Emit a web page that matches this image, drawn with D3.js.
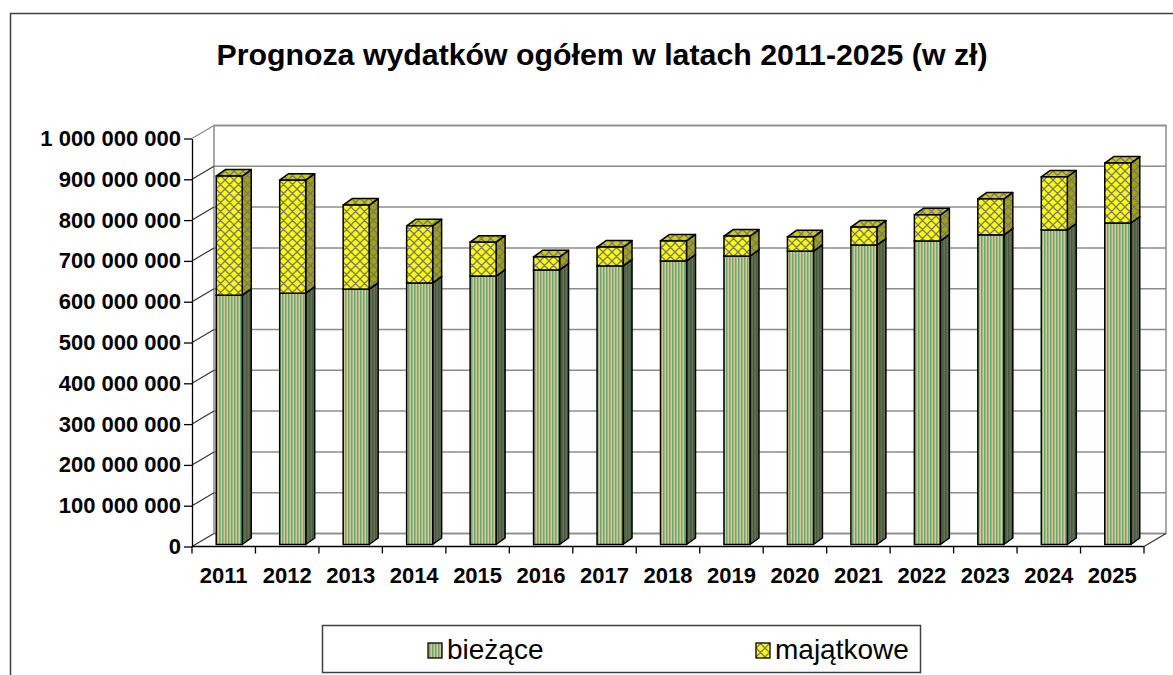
<!DOCTYPE html>
<html>
<head>
<meta charset="utf-8">
<script src="https://cdn.jsdelivr.net/npm/d3@7"></script>
<style>
  body { margin: 0; background: #fff; }
  svg { display: block; font-family: 'Liberation Sans', Arial, sans-serif; }
</style>
</head>
<body>
<svg></svg>
<script>
// data (zł)
const years = ['2011', '2012', '2013', '2014', '2015', '2016', '2017', '2018',
               '2019', '2020', '2021', '2022', '2023', '2024', '2025'];
const biezace = [611e6, 616e6, 626e6, 641e6, 658e6, 673e6, 683e6, 695e6,
                 707e6, 719e6, 734e6, 744e6, 759e6, 771e6, 788e6];
const majatkowe = [292e6, 277e6, 206e6, 140e6, 83e6, 32e6, 46e6, 49e6,
                   49e6, 35e6, 44e6, 64e6, 88e6, 130e6, 147e6];
const yTicks = [0, 100e6, 200e6, 300e6, 400e6, 500e6, 600e6, 700e6, 800e6, 900e6, 1000e6];
const seriesNames = ['bieżące', 'majątkowe'];

let width = 1173
let height = 675

// 3d box of the plot
let plotLeft = 192, plotRight = 1144, plotBottom = 546.5, plotTop = 138.5
let depthX = 22, depthY = 13
// bar placement inside the depth
let barOffX = 5.5, barOffY = 2
let barDX = 9, barDY = 6.5

let x, y
let svg = d3.select('svg')

const fmt = d3.formatLocale({ decimal: ',', thousands: ' ', grouping: [3], currency: ['', ' zł'] }).format(',')

let drawCanvas = () => {
  svg.attr('width', width).attr('height', height)

  let defs = svg.append('defs')

  // vertical stripes (front)
  let st = defs.append('pattern').attr('id', 'stripes')
    .attr('patternUnits', 'userSpaceOnUse').attr('width', 3).attr('height', 10)
  st.append('rect').attr('width', 3).attr('height', 10).attr('fill', '#dcc890')
  st.append('rect').attr('width', 1.5).attr('height', 10).attr('fill', '#66a877')

  let sd = defs.append('pattern').attr('id', 'stripesDark')
    .attr('patternUnits', 'userSpaceOnUse').attr('width', 3).attr('height', 10)
  sd.append('rect').attr('width', 3).attr('height', 10).attr('fill', '#706c4e')
  sd.append('rect').attr('width', 1.5).attr('height', 10).attr('fill', '#3d5f46')

  let hatch = (id, bg) => {
    let p = defs.append('pattern').attr('id', id)
      .attr('patternUnits', 'userSpaceOnUse').attr('width', 9).attr('height', 9)
    p.append('rect').attr('width', 9).attr('height', 9).attr('fill', bg)
    p.append('path').attr('d', 'M0,0L9,9M9,0L0,9M-1,8L1,10M8,-1L10,1M-1,1L1,-1M8,10L10,8')
      .attr('stroke', '#777').attr('stroke-width', 1.3)
  }
  hatch('hatch', '#ffff00')
  hatch('hatchSide', '#a3a300')
  hatch('hatchTop', '#cccc00')

  // chart frame
  svg.append('rect')
    .attr('x', 10.5).attr('y', 13.5)
    .attr('width', 1200).attr('height', 700)
    .attr('fill', '#fff').attr('stroke', '#404040').attr('stroke-width', 1.5)

  svg.append('text')
    .attr('x', 602).attr('y', 65)
    .attr('text-anchor', 'middle')
    .style('font-size', '30.3px').style('font-weight', 'bold')
    .text('Prognoza wydatków ogółem w latach 2011-2025 (w zł)')
}

let generateScales = () => {
  x = d3.scaleBand().domain(years).range([plotLeft, plotRight])
  y = d3.scaleLinear().domain([0, 1e9]).range([plotBottom, plotTop])
}

let drawWalls = () => {
  let g = svg.append('g')

  // back wall
  g.append('rect')
    .attr('x', plotLeft + depthX).attr('y', plotTop - depthY)
    .attr('width', plotRight - plotLeft).attr('height', plotBottom - plotTop)
    .attr('fill', '#fff').attr('stroke', '#8c8c8c').attr('stroke-width', 1.5)

  // gridlines on back wall
  g.selectAll('.grid')
    .data(yTicks.slice(1))
    .enter()
    .append('line')
    .attr('x1', plotLeft + depthX).attr('x2', plotRight + depthX)
    .attr('y1', d => y(d) - depthY).attr('y2', d => y(d) - depthY)
    .attr('stroke', '#8c8c8c').attr('stroke-width', 1.5)

  // left wall diagonals
  g.selectAll('.diag')
    .data(yTicks)
    .enter()
    .append('line')
    .attr('x1', plotLeft).attr('x2', plotLeft + depthX)
    .attr('y1', d => y(d)).attr('y2', d => y(d) - depthY)
    .attr('stroke', d => d === 1e9 ? '#8c8c8c' : '#333').attr('stroke-width', 1.2)

  // floor
  g.append('line')
    .attr('x1', plotLeft + depthX).attr('x2', plotRight + depthX)
    .attr('y1', plotBottom - depthY).attr('y2', plotBottom - depthY)
    .attr('stroke', '#8c8c8c').attr('stroke-width', 1.5)
  g.append('line')
    .attr('x1', plotRight).attr('x2', plotRight + depthX)
    .attr('y1', plotBottom).attr('y2', plotBottom - depthY)
    .attr('stroke', '#333').attr('stroke-width', 1.2)
}

let drawBars = () => {
  let bw = 26
  let stacked = years.map((yr, i) => ({
    year: yr,
    segs: [
      { v0: 0, v1: biezace[i], front: 'url(#stripes)', side: 'url(#stripesDark)', top: 'url(#stripesDark)' },
      { v0: biezace[i], v1: biezace[i] + majatkowe[i], front: 'url(#hatch)', side: 'url(#hatchSide)', top: 'url(#hatchTop)' }
    ]
  }))

  let bars = svg.append('g')
    .selectAll('g')
    .data(stacked)
    .enter()
    .append('g')

  bars.each(function (d) {
    let xl = x(d.year) + (x.bandwidth() - bw) / 2 + barOffX
    let xr = xl + bw
    let gg = d3.select(this)
    d.segs.forEach(s => {
      let yt = y(s.v1) - barOffY
      let yb = y(s.v0) - barOffY
      gg.append('path')
        .attr('d', `M${xr},${yb}L${xr + barDX},${yb - barDY}L${xr + barDX},${yt - barDY}L${xr},${yt}Z`)
        .attr('fill', s.side).attr('stroke', '#000').attr('stroke-width', 1.5).attr('stroke-linejoin', 'round')
      gg.append('path')
        .attr('d', `M${xl},${yt}L${xl + barDX},${yt - barDY}L${xr + barDX},${yt - barDY}L${xr},${yt}Z`)
        .attr('fill', s.top).attr('stroke', '#000').attr('stroke-width', 1.5).attr('stroke-linejoin', 'round')
      gg.append('rect')
        .attr('x', xl).attr('y', yt)
        .attr('width', bw).attr('height', yb - yt)
        .attr('fill', s.front).attr('stroke', '#000').attr('stroke-width', 1.5)
    })
  })
}

let generateAxes = () => {
  let yAxis = d3.axisLeft(y).tickValues(yTicks).tickSize(8).tickPadding(3)
    .tickSizeOuter(0).tickFormat(fmt)
  let ya = svg.append('g')
    .attr('id', 'y-axis')
    .attr('transform', `translate(${plotLeft}, 0)`)
    .call(yAxis)
  ya.selectAll('text')
    .style('font-size', '22px').style('font-weight', 'bold').style('fill', '#000')
    .style('font-family', "'Liberation Sans', Arial, sans-serif")
  ya.selectAll('path, line').attr('stroke', '#000').attr('stroke-width', 1.3)

  let xAxis = d3.axisBottom(x).tickSize(0).tickPadding(21)
  let xa = svg.append('g')
    .attr('id', 'x-axis')
    .attr('transform', `translate(0, ${plotBottom})`)
    .call(xAxis)
  xa.select('.domain').remove()
  xa.selectAll('text')
    .style('font-size', '22px').style('font-weight', 'bold').style('fill', '#000')
    .style('font-family', "'Liberation Sans', Arial, sans-serif")

  // front floor edge + category boundary ticks
  svg.append('line')
    .attr('x1', plotLeft).attr('x2', plotRight)
    .attr('y1', plotBottom).attr('y2', plotBottom)
    .attr('stroke', '#000').attr('stroke-width', 1.3)
  let bounds = years.map(d => x(d)).concat([x(years[years.length - 1]) + x.step()])
  svg.append('g').selectAll('line')
    .data(bounds)
    .enter()
    .append('line')
    .attr('x1', d => d).attr('x2', d => d)
    .attr('y1', plotBottom).attr('y2', plotBottom + 7)
    .attr('stroke', '#000').attr('stroke-width', 1.3)
}

let drawLegend = () => {
  let lg = svg.append('g')
  lg.append('rect')
    .attr('x', 322.5).attr('y', 625.5)
    .attr('width', 598).attr('height', 47)
    .attr('fill', '#fff').attr('stroke', '#404040').attr('stroke-width', 1.5)

  let fills = ['url(#stripes)', 'url(#hatch)']
  let itemX = [428, 756]
  seriesNames.forEach((name, i) => {
    lg.append('rect')
      .attr('x', itemX[i]).attr('y', 643)
      .attr('width', 14).attr('height', 15)
      .attr('fill', fills[i]).attr('stroke', '#000').attr('stroke-width', 1.3)
    lg.append('text')
      .attr('x', itemX[i] + 19).attr('y', 659)
      .style('font-size', '28px')
      .text(name)
  })
}

drawCanvas()
generateScales()
drawWalls()
drawBars()
generateAxes()
drawLegend()
</script>
</body>
</html>
